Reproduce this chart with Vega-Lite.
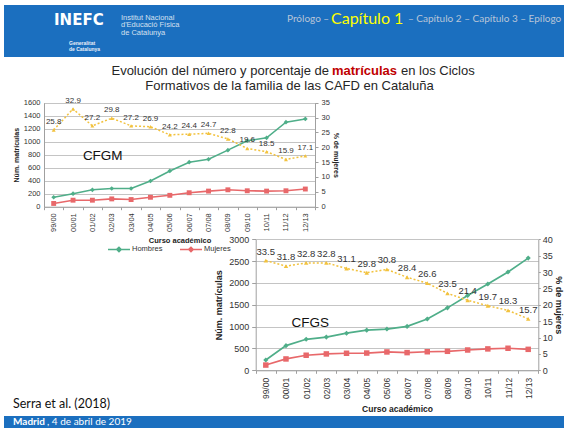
{
  "$schema": "https://vega.github.io/schema/vega-lite/v6.json",
  "background": "white",
  "padding": {"left": 0, "top": 5, "right": 0, "bottom": 0},
  "spacing": 0,
  "bounds": "flush",
  "datasets": {
    "counts": [
      {"ciclo": "CFGM", "curso": "99/00", "sexo": "Hombres", "n": 145},
      {"ciclo": "CFGM", "curso": "00/01", "sexo": "Hombres", "n": 200},
      {"ciclo": "CFGM", "curso": "01/02", "sexo": "Hombres", "n": 260},
      {"ciclo": "CFGM", "curso": "02/03", "sexo": "Hombres", "n": 280},
      {"ciclo": "CFGM", "curso": "03/04", "sexo": "Hombres", "n": 280},
      {"ciclo": "CFGM", "curso": "04/05", "sexo": "Hombres", "n": 395},
      {"ciclo": "CFGM", "curso": "05/06", "sexo": "Hombres", "n": 550},
      {"ciclo": "CFGM", "curso": "06/07", "sexo": "Hombres", "n": 685},
      {"ciclo": "CFGM", "curso": "07/08", "sexo": "Hombres", "n": 730},
      {"ciclo": "CFGM", "curso": "08/09", "sexo": "Hombres", "n": 870},
      {"ciclo": "CFGM", "curso": "09/10", "sexo": "Hombres", "n": 1015},
      {"ciclo": "CFGM", "curso": "10/11", "sexo": "Hombres", "n": 1060},
      {"ciclo": "CFGM", "curso": "11/12", "sexo": "Hombres", "n": 1300},
      {"ciclo": "CFGM", "curso": "12/13", "sexo": "Hombres", "n": 1350},
      {"ciclo": "CFGM", "curso": "99/00", "sexo": "Mujeres", "n": 50},
      {"ciclo": "CFGM", "curso": "00/01", "sexo": "Mujeres", "n": 100},
      {"ciclo": "CFGM", "curso": "01/02", "sexo": "Mujeres", "n": 100},
      {"ciclo": "CFGM", "curso": "02/03", "sexo": "Mujeres", "n": 120},
      {"ciclo": "CFGM", "curso": "03/04", "sexo": "Mujeres", "n": 110},
      {"ciclo": "CFGM", "curso": "04/05", "sexo": "Mujeres", "n": 145},
      {"ciclo": "CFGM", "curso": "05/06", "sexo": "Mujeres", "n": 175},
      {"ciclo": "CFGM", "curso": "06/07", "sexo": "Mujeres", "n": 215},
      {"ciclo": "CFGM", "curso": "07/08", "sexo": "Mujeres", "n": 240},
      {"ciclo": "CFGM", "curso": "08/09", "sexo": "Mujeres", "n": 260},
      {"ciclo": "CFGM", "curso": "09/10", "sexo": "Mujeres", "n": 245},
      {"ciclo": "CFGM", "curso": "10/11", "sexo": "Mujeres", "n": 240},
      {"ciclo": "CFGM", "curso": "11/12", "sexo": "Mujeres", "n": 245},
      {"ciclo": "CFGM", "curso": "12/13", "sexo": "Mujeres", "n": 272},
      {"ciclo": "CFGS", "curso": "99/00", "sexo": "Hombres", "n": 235},
      {"ciclo": "CFGS", "curso": "00/01", "sexo": "Hombres", "n": 565},
      {"ciclo": "CFGS", "curso": "01/02", "sexo": "Hombres", "n": 710},
      {"ciclo": "CFGS", "curso": "02/03", "sexo": "Hombres", "n": 760},
      {"ciclo": "CFGS", "curso": "03/04", "sexo": "Hombres", "n": 850},
      {"ciclo": "CFGS", "curso": "04/05", "sexo": "Hombres", "n": 920},
      {"ciclo": "CFGS", "curso": "05/06", "sexo": "Hombres", "n": 945},
      {"ciclo": "CFGS", "curso": "06/07", "sexo": "Hombres", "n": 1005},
      {"ciclo": "CFGS", "curso": "07/08", "sexo": "Hombres", "n": 1175},
      {"ciclo": "CFGS", "curso": "08/09", "sexo": "Hombres", "n": 1430},
      {"ciclo": "CFGS", "curso": "09/10", "sexo": "Hombres", "n": 1715},
      {"ciclo": "CFGS", "curso": "10/11", "sexo": "Hombres", "n": 1975},
      {"ciclo": "CFGS", "curso": "11/12", "sexo": "Hombres", "n": 2250},
      {"ciclo": "CFGS", "curso": "12/13", "sexo": "Hombres", "n": 2570},
      {"ciclo": "CFGS", "curso": "99/00", "sexo": "Mujeres", "n": 120},
      {"ciclo": "CFGS", "curso": "00/01", "sexo": "Mujeres", "n": 260},
      {"ciclo": "CFGS", "curso": "01/02", "sexo": "Mujeres", "n": 345},
      {"ciclo": "CFGS", "curso": "02/03", "sexo": "Mujeres", "n": 375},
      {"ciclo": "CFGS", "curso": "03/04", "sexo": "Mujeres", "n": 390},
      {"ciclo": "CFGS", "curso": "04/05", "sexo": "Mujeres", "n": 395},
      {"ciclo": "CFGS", "curso": "05/06", "sexo": "Mujeres", "n": 420},
      {"ciclo": "CFGS", "curso": "06/07", "sexo": "Mujeres", "n": 405},
      {"ciclo": "CFGS", "curso": "07/08", "sexo": "Mujeres", "n": 425},
      {"ciclo": "CFGS", "curso": "08/09", "sexo": "Mujeres", "n": 435},
      {"ciclo": "CFGS", "curso": "09/10", "sexo": "Mujeres", "n": 465},
      {"ciclo": "CFGS", "curso": "10/11", "sexo": "Mujeres", "n": 490},
      {"ciclo": "CFGS", "curso": "11/12", "sexo": "Mujeres", "n": 505},
      {"ciclo": "CFGS", "curso": "12/13", "sexo": "Mujeres", "n": 480}
    ],
    "pct": [
      {"ciclo": "CFGM", "curso": "99/00", "pct": 25.8},
      {"ciclo": "CFGM", "curso": "00/01", "pct": 32.9},
      {"ciclo": "CFGM", "curso": "01/02", "pct": 27.2},
      {"ciclo": "CFGM", "curso": "02/03", "pct": 29.8},
      {"ciclo": "CFGM", "curso": "03/04", "pct": 27.2},
      {"ciclo": "CFGM", "curso": "04/05", "pct": 26.9},
      {"ciclo": "CFGM", "curso": "05/06", "pct": 24.2},
      {"ciclo": "CFGM", "curso": "06/07", "pct": 24.4},
      {"ciclo": "CFGM", "curso": "07/08", "pct": 24.7},
      {"ciclo": "CFGM", "curso": "08/09", "pct": 22.8},
      {"ciclo": "CFGM", "curso": "09/10", "pct": 19.6},
      {"ciclo": "CFGM", "curso": "10/11", "pct": 18.5},
      {"ciclo": "CFGM", "curso": "11/12", "pct": 15.9},
      {"ciclo": "CFGM", "curso": "12/13", "pct": 17.1},
      {"ciclo": "CFGS", "curso": "99/00", "pct": 33.5},
      {"ciclo": "CFGS", "curso": "00/01", "pct": 31.8},
      {"ciclo": "CFGS", "curso": "01/02", "pct": 32.8},
      {"ciclo": "CFGS", "curso": "02/03", "pct": 32.8},
      {"ciclo": "CFGS", "curso": "03/04", "pct": 31.1},
      {"ciclo": "CFGS", "curso": "04/05", "pct": 29.8},
      {"ciclo": "CFGS", "curso": "05/06", "pct": 30.8},
      {"ciclo": "CFGS", "curso": "06/07", "pct": 28.4},
      {"ciclo": "CFGS", "curso": "07/08", "pct": 26.6},
      {"ciclo": "CFGS", "curso": "08/09", "pct": 23.5},
      {"ciclo": "CFGS", "curso": "09/10", "pct": 21.4},
      {"ciclo": "CFGS", "curso": "10/11", "pct": 19.7},
      {"ciclo": "CFGS", "curso": "11/12", "pct": 18.3},
      {"ciclo": "CFGS", "curso": "12/13", "pct": 15.7}
    ],
    "labels": [
      {"ciclo": "CFGM", "curso": "02/03", "n": 785, "label": "CFGM"},
      {"ciclo": "CFGS", "curso": "01/02", "n": 1080, "label": "CFGS"}
    ]
  },
  "vconcat": [
    {
      "width": 564,
      "height": 52,
      "view": {"fill": "#1b6fbf", "stroke": null},
      "layer": [
        {"data": {"values": [{"t": "INEFC"}]}, "mark": {"type": "text", "align": "left", "baseline": "alphabetic", "dx": -232, "dy": -6, "font": "DejaVu Sans", "fontSize": 15, "fontWeight": "bold", "color": "white"}, "encoding": {"text": {"field": "t"}}},
        {"data": {"values": [{"t": "Generalitat|de Catalunya"}]}, "mark": {"type": "text", "align": "left", "baseline": "top", "lineBreak": "|", "lineHeight": 5.5, "dx": -217, "dy": 10, "font": "Liberation Sans", "fontSize": 5, "fontWeight": "bold", "color": "#e8eef8"}, "encoding": {"text": {"field": "t"}}},
        {"data": {"values": [{"t": "Institut Nacional|d'Educació Física|de Catalunya"}]}, "mark": {"type": "text", "align": "left", "baseline": "top", "lineBreak": "|", "lineHeight": 7.5, "dx": -165, "dy": -17.5, "font": "Liberation Sans", "fontSize": 7.5, "color": "#d5e0f0"}, "encoding": {"text": {"field": "t"}}},
        {"data": {"values": [{"t": "Prólogo –"}]}, "mark": {"type": "text", "align": "left", "baseline": "alphabetic", "dx": 1, "dy": -9.5, "font": "Lato", "fontSize": 10, "color": "#b8c5d8"}, "encoding": {"text": {"field": "t"}}},
        {"data": {"values": [{"t": "Capítulo 1"}]}, "mark": {"type": "text", "align": "left", "baseline": "alphabetic", "dx": 45, "dy": -7.5, "font": "Lato", "fontSize": 16, "color": "#ffff00"}, "encoding": {"text": {"field": "t"}}},
        {"data": {"values": [{"t": "– Capítulo 2 – Capítulo 3 – Epílogo"}]}, "mark": {"type": "text", "align": "left", "baseline": "alphabetic", "dx": 122, "dy": -9.5, "font": "Lato", "fontSize": 10, "color": "#b8c5d8"}, "encoding": {"text": {"field": "t"}}}
      ]
    },
    {
      "width": 564,
      "height": 32,
      "layer": [
        {"data": {"values": [{"t": "Evolución del número y porcentaje de"}]}, "mark": {"type": "text", "align": "right", "baseline": "alphabetic", "dx": 43, "dy": 2, "font": "Liberation Sans", "fontSize": 13, "color": "#262626"}, "encoding": {"text": {"field": "t"}}},
        {"data": {"values": [{"t": "matrículas"}]}, "mark": {"type": "text", "align": "left", "baseline": "alphabetic", "dx": 46, "dy": 2, "font": "Liberation Sans", "fontSize": 13, "fontWeight": "bold", "color": "#c00000"}, "encoding": {"text": {"field": "t"}}},
        {"data": {"values": [{"t": "en los Ciclos"}]}, "mark": {"type": "text", "align": "left", "baseline": "alphabetic", "dx": 115, "dy": 2, "font": "Liberation Sans", "fontSize": 13, "color": "#262626"}, "encoding": {"text": {"field": "t"}}},
        {"data": {"values": [{"t": "Formativos de la familia de las CAFD en Cataluña"}]}, "mark": {"type": "text", "align": "center", "baseline": "alphabetic", "dx": 3.5, "dy": 17, "font": "Liberation Sans", "fontSize": 13, "color": "#262626"}, "encoding": {"text": {"field": "t"}}}
      ]
    },
    {
      "width": 564,
      "height": 307,
      "layer": [
        {
          "layer": [
            {
              "data": {"name": "counts"},
              "transform": [{"filter": "datum.ciclo === 'CFGM'"}],
              "encoding": {
                "x": {"field": "curso", "type": "ordinal",
                  "scale": {"type": "band", "domain": ["99/00","00/01","01/02","02/03","03/04","04/05","05/06","06/07","07/08","08/09","09/10","10/11","11/12","12/13"], "range": [40, 311], "paddingInner": 0, "paddingOuter": 0},
                  "axis": {"orient": "bottom", "offset": -189.3, "labelAngle": -90, "labelFontSize": 7.5, "labelFont": "Liberation Sans Narrow, Liberation Sans", "labelPadding": 3, "tickBand": "extent", "ticks": true, "tickSize": 3, "grid": false, "title": "Curso académico", "titleFontSize": 7.5, "titleFont": "Liberation Sans Narrow, Liberation Sans", "titleFontWeight": "bold", "titlePadding": 5}},
                "y": {"field": "n", "type": "quantitative",
                  "scale": {"domain": [0, 1600], "range": [117.7, 13.7], "nice": false},
                  "axis": {"orient": "left", "offset": -40, "values": [0, 200, 400, 600, 800, 1000, 1200, 1400, 1600], "format": "d", "labelFontSize": 7.5, "labelFont": "Liberation Sans Narrow, Liberation Sans", "labelPadding": 4, "ticks": false, "grid": true, "gridColor": "#c4c4c4", "title": "Núm. matrículas", "titleFontSize": 7, "titleFont": "Liberation Sans Narrow, Liberation Sans", "titleFontWeight": "bold", "titlePadding": 4}},
                "color": {"field": "sexo", "type": "nominal",
                  "scale": {"domain": ["Hombres", "Mujeres"], "range": ["#4fae89", "#e8686a"]},
                  "legend": {"orient": "none", "legendX": 103, "legendY": 148, "direction": "horizontal", "title": null, "labelFontSize": 7.5, "labelFont": "Liberation Sans Narrow, Liberation Sans", "labelColor": "#333", "symbolType": "M-1,0H1M-0.2,0L0,-0.2L0.2,0L0,0.2Z", "symbolSize": 484, "symbolStrokeWidth": 1.5, "columnPadding": 14, "labelOffset": 1}}
              },
              "layer": [
                {"data": {"name": "pct"}, "transform": [{"filter": "datum.ciclo === 'CFGM'"}],
                  "mark": {"type": "rule", "strokeDash": [2, 2], "strokeWidth": 1},
                  "encoding": {"x": {"field": "curso", "type": "ordinal", "bandPosition": 0}, "y": {"datum": 0, "type": "quantitative"}, "y2": {"datum": 1600}, "color": {"value": "#d4d4d4"}}},
                {"mark": {"type": "line", "strokeWidth": 1.6}},
                {"transform": [{"filter": "datum.sexo === 'Hombres'"}], "mark": {"type": "point", "shape": "diamond", "filled": true, "size": 22, "opacity": 1}},
                {"transform": [{"filter": "datum.sexo === 'Mujeres'"}], "mark": {"type": "square", "size": 24, "opacity": 1}},
                {"data": {"name": "labels"}, "transform": [{"filter": "datum.ciclo === 'CFGM'"}],
                  "mark": {"type": "text", "fontSize": 13.5, "font": "Liberation Sans", "baseline": "middle", "align": "center", "dx": -9},
                  "encoding": {"text": {"field": "label"}, "color": {"value": "#111111"}}}
              ]
            },
            {
              "data": {"name": "pct"},
              "transform": [{"filter": "datum.ciclo === 'CFGM'"}],
              "encoding": {
                "x": {"field": "curso", "type": "ordinal"},
                "y": {"field": "pct", "type": "quantitative",
                  "scale": {"domain": [0, 35], "range": [117.7, 13.7], "nice": false},
                  "axis": {"orient": "right", "offset": -253, "values": [0, 5, 10, 15, 20, 25, 30, 35], "labelFontSize": 7.5, "labelFont": "Liberation Sans Narrow, Liberation Sans", "labelPadding": 3, "grid": false, "ticks": true, "tickSize": 3, "title": "% de mujeres", "titleFontSize": 7, "titleFont": "Liberation Sans Narrow, Liberation Sans", "titleFontWeight": "bold", "titlePadding": 3}}
              },
              "layer": [
                {"mark": {"type": "line", "color": "#f2c23e", "strokeDash": [2, 2], "strokeWidth": 1.5}},
                {"mark": {"type": "point", "shape": "triangle-up", "filled": true, "size": 16, "color": "#f2c23e", "opacity": 1}},
                {"mark": {"type": "text", "dy": -8, "fontSize": 8, "font": "Liberation Sans Narrow, Liberation Sans", "color": "#333333"}, "encoding": {"text": {"field": "pct", "format": ".1f"}}}
              ]
            }
          ],
          "resolve": {"scale": {"y": "independent"}, "axis": {"y": "independent"}}
        },
        {
          "layer": [
            {
              "data": {"name": "counts"},
              "transform": [{"filter": "datum.ciclo === 'CFGS'"}],
              "encoding": {
                "x": {"field": "curso", "type": "ordinal",
                  "scale": {"type": "band", "domain": ["99/00","00/01","01/02","02/03","03/04","04/05","05/06","06/07","07/08","08/09","09/10","10/11","11/12","12/13"], "range": [251.7, 534.3], "paddingInner": 0, "paddingOuter": 0},
                  "axis": {"orient": "bottom", "offset": -25.7, "labelAngle": -90, "labelFontSize": 8.5, "labelFont": "Liberation Sans Narrow, Liberation Sans", "labelPadding": 4, "tickBand": "extent", "ticks": true, "tickSize": 3, "grid": false, "title": "Curso académico", "titleFontSize": 8.5, "titleFont": "Liberation Sans Narrow, Liberation Sans", "titleFontWeight": "bold", "titlePadding": 6}},
                "y": {"field": "n", "type": "quantitative",
                  "scale": {"domain": [0, 3000], "range": [281.3, 150.3], "nice": false},
                  "axis": {"orient": "left", "offset": -251.7, "values": [0, 500, 1000, 1500, 2000, 2500, 3000], "format": "d", "labelFontSize": 9, "labelFont": "Liberation Sans Narrow, Liberation Sans", "labelPadding": 3, "ticks": true, "tickSize": 4, "grid": true, "gridColor": "#c4c4c4", "title": "Núm. matrículas", "titleFontSize": 9, "titleFont": "Liberation Sans Narrow, Liberation Sans", "titleFontWeight": "bold", "titlePadding": 5}},
                "color": {"field": "sexo", "type": "nominal",
                  "scale": {"domain": ["Hombres", "Mujeres"], "range": ["#4fae89", "#e8686a"]},
                  "legend": null}
              },
              "layer": [
                {"data": {"name": "pct"}, "transform": [{"filter": "datum.ciclo === 'CFGS'"}],
                  "mark": {"type": "rule", "strokeDash": [2, 2], "strokeWidth": 1},
                  "encoding": {"x": {"field": "curso", "type": "ordinal", "bandPosition": 0}, "y": {"datum": 0, "type": "quantitative"}, "y2": {"datum": 3000}, "color": {"value": "#d4d4d4"}}},
                {"mark": {"type": "line", "strokeWidth": 1.7}},
                {"transform": [{"filter": "datum.sexo === 'Hombres'"}], "mark": {"type": "point", "shape": "diamond", "filled": true, "size": 26, "opacity": 1}},
                {"transform": [{"filter": "datum.sexo === 'Mujeres'"}], "mark": {"type": "square", "size": 30, "opacity": 1}},
                {"data": {"name": "labels"}, "transform": [{"filter": "datum.ciclo === 'CFGS'"}],
                  "mark": {"type": "text", "fontSize": 13.5, "font": "Liberation Sans", "baseline": "middle", "align": "center", "dx": 4},
                  "encoding": {"text": {"field": "label"}, "color": {"value": "#111111"}}}
              ]
            },
            {
              "data": {"name": "pct"},
              "transform": [{"filter": "datum.ciclo === 'CFGS'"}],
              "encoding": {
                "x": {"field": "curso", "type": "ordinal"},
                "y": {"field": "pct", "type": "quantitative",
                  "scale": {"domain": [0, 40], "range": [281.3, 150.3], "nice": false},
                  "axis": {"orient": "right", "offset": -29.7, "values": [0, 5, 10, 15, 20, 25, 30, 35, 40], "labelFontSize": 9, "labelFont": "Liberation Sans Narrow, Liberation Sans", "labelPadding": 2, "grid": false, "ticks": true, "tickSize": 2, "title": "% de mujeres", "titleFontSize": 9, "titleFont": "Liberation Sans Narrow, Liberation Sans", "titleFontWeight": "bold", "titlePadding": 1}}
              },
              "layer": [
                {"mark": {"type": "line", "color": "#f2c23e", "strokeDash": [2, 2], "strokeWidth": 1.5}},
                {"mark": {"type": "point", "shape": "triangle-up", "filled": true, "size": 20, "color": "#f2c23e", "opacity": 1}},
                {"mark": {"type": "text", "dy": -9, "fontSize": 9.5, "font": "Liberation Sans Narrow, Liberation Sans", "color": "#333333"}, "encoding": {"text": {"field": "pct", "format": ".1f"}}}
              ]
            }
          ],
          "resolve": {"scale": {"y": "independent"}, "axis": {"y": "independent"}}
        }
      ],
      "resolve": {"scale": {"x": "independent", "y": "independent", "color": "independent"}, "axis": {"x": "independent", "y": "independent"}, "legend": {"color": "independent"}}
    },
    {
      "width": 564,
      "height": 20,
      "data": {"values": [{"t": "Serra et al. (2018)"}]},
      "mark": {"type": "text", "align": "left", "baseline": "alphabetic", "dx": -273, "dy": 1.7, "font": "Lato", "fontSize": 12.5, "color": "#111111"},
      "encoding": {"text": {"field": "t"}}
    },
    {
      "width": 564,
      "height": 12,
      "view": {"fill": "#1b6fbf", "stroke": null},
      "layer": [
        {"data": {"values": [{"t": "Madrid"}]}, "mark": {"type": "text", "align": "left", "baseline": "alphabetic", "dx": -273, "dy": 2.5, "font": "Lato", "fontSize": 10, "fontWeight": "bold", "color": "white"}, "encoding": {"text": {"field": "t"}}},
        {"data": {"values": [{"t": ", 4 de abril de 2019"}]}, "mark": {"type": "text", "align": "left", "baseline": "alphabetic", "dx": -239, "dy": 2.5, "font": "Lato", "fontSize": 10, "color": "white"}, "encoding": {"text": {"field": "t"}}}
      ]
    }
  ],
  "config": {
    "font": "Liberation Sans",
    "view": {"stroke": null},
    "axis": {"labelColor": "#333333", "titleColor": "#222222", "domainColor": "#a0a0a0", "tickColor": "#a0a0a0"}
  }
}
